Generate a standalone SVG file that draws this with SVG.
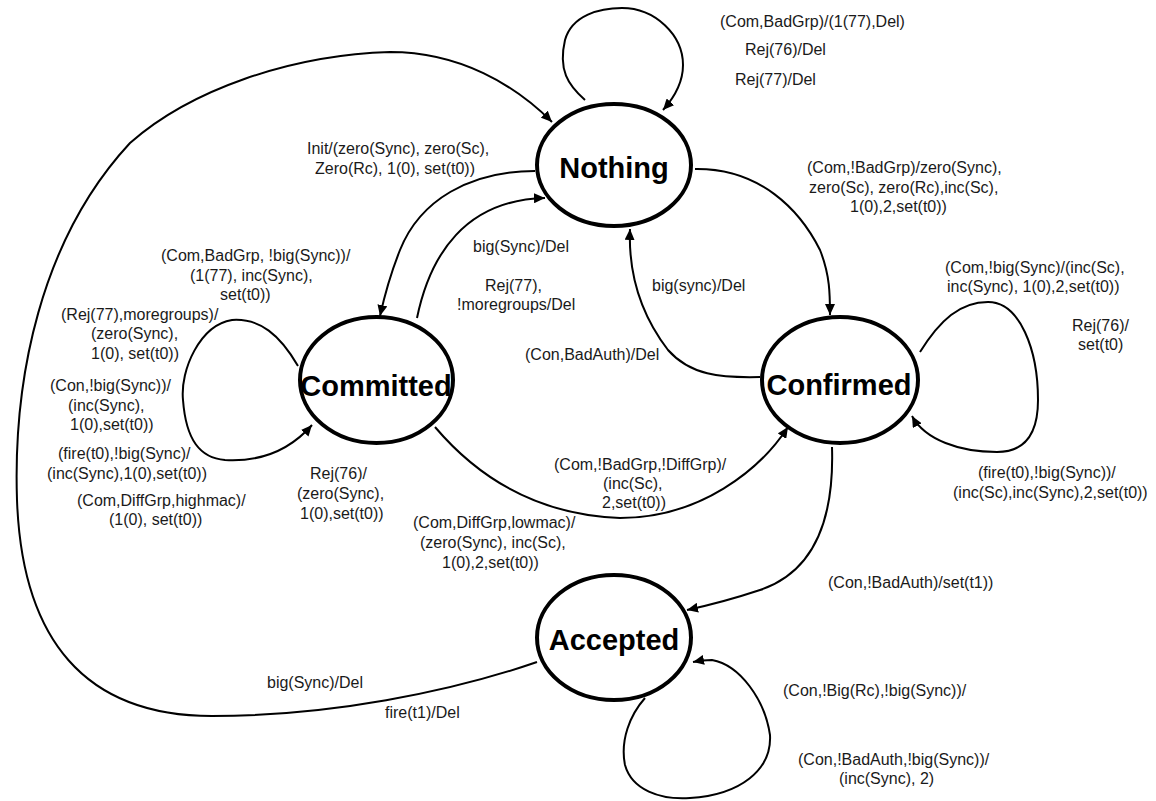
<svg xmlns="http://www.w3.org/2000/svg" width="1156" height="801" viewBox="0 0 1156 801">
<style>
.node{fill:#fff;stroke:#000;stroke-width:4}
.nt{font-family:"Liberation Sans",Arial,sans-serif;font-size:29px;font-weight:bold;fill:#000;text-anchor:middle}
.edge{fill:none;stroke:#000;stroke-width:2}
.lbl{font-family:"Liberation Sans",Arial,sans-serif;font-size:16px;fill:#1a1a1a}
</style>
<defs>
<marker id="arr" markerUnits="userSpaceOnUse" markerWidth="12" markerHeight="10" refX="11" refY="5" orient="auto">
<path d="M0,0 L11,5 L0,10 z" fill="#000"/>
</marker>
</defs>
<rect width="1156" height="801" fill="#fff"/>
<g id="connectors">
<path class="edge" marker-end="url(#arr)" d="M585,100 C568,85 558,70 565,40 C572,15 600,8 622,8 C655,8 683,35 683,65 C683,85 672,100 663,110"/>
<path class="edge" marker-end="url(#arr)" d="M537,662 C450,692 330,716 212,716 C85,716 22,640 17,500 C13,380 40,240 130,143 C190,90 290,55 390,52 C460,52 515,85 552,122"/>
<path class="edge" marker-end="url(#arr)" d="M535,171 C470,171 420,200 400,250 C390,275 384,298 380,316"/>
<path class="edge" marker-end="url(#arr)" d="M417,318 C430,255 465,200 545,198"/>
<path class="edge" marker-end="url(#arr)" d="M695,169 C760,168 800,210 820,250 C830,275 830,295 830,315"/>
<path class="edge" marker-end="url(#arr)" d="M760,377 C720,378 690,375 668,350 C645,320 628,280 630,229"/>
<path class="edge" marker-end="url(#arr)" d="M435,427 C480,480 540,515 620,518 C700,518 760,470 788,427"/>
<path class="edge" marker-end="url(#arr)" d="M832,447 C834,510 820,570 760,590 C730,600 710,605 687,610"/>
<path class="edge" marker-end="url(#arr)" d="M298,366 C280,335 260,318 232,320 C200,325 180,370 183,400 C186,440 200,458 225,460 C260,462 290,450 312,425"/>
<path class="edge" marker-end="url(#arr)" d="M920,352 C940,320 960,302 988,302 C1020,302 1038,350 1038,400 C1038,440 1020,452 997,452 C960,452 925,440 912,416"/>
<path class="edge" marker-end="url(#arr)" d="M645,698 C630,715 620,740 625,765 C632,790 660,800 690,798 C740,795 772,770 770,735 C765,700 740,665 712,660 C705,660 698,661 693,662"/>
</g>
<g id="labels" class="lbl">
<text x="720" y="27">(Com,BadGrp)/(1(77),Del)</text>
<text x="745" y="55">Rej(76)/Del</text>
<text x="735" y="85">Rej(77)/Del</text>
<text x="307" y="154">Init/(zero(Sync), zero(Sc),</text>
<text x="315" y="174">Zero(Rc), 1(0), set(t0))</text>
<text x="807" y="173">(Com,!BadGrp)/zero(Sync),</text>
<text x="809" y="193">zero(Sc), zero(Rc),inc(Sc),</text>
<text x="850" y="212">1(0),2,set(t0))</text>
<text x="473" y="252">big(Sync)/Del</text>
<text x="485" y="291">Rej(77),</text>
<text x="457" y="310">!moregroups/Del</text>
<text x="652" y="291">big(sync)/Del</text>
<text x="525" y="360">(Con,BadAuth)/Del</text>
<text x="161" y="261">(Com,BadGrp, !big(Sync))/</text>
<text x="190" y="281">(1(77), inc(Sync),</text>
<text x="220" y="300">set(t0))</text>
<text x="61" y="320">(Rej(77),moregroups)/</text>
<text x="91" y="339">(zero(Sync),</text>
<text x="91" y="359">1(0), set(t0))</text>
<text x="50" y="391">(Con,!big(Sync))/</text>
<text x="68" y="411">(inc(Sync),</text>
<text x="70" y="430">1(0),set(t0))</text>
<text x="58" y="459">(fire(t0),!big(Sync)/</text>
<text x="47" y="479">(inc(Sync),1(0),set(t0))</text>
<text x="77" y="506">(Com,DiffGrp,highmac)/</text>
<text x="109" y="525">(1(0), set(t0))</text>
<text x="310" y="479">Rej(76)/</text>
<text x="297" y="499">(zero(Sync),</text>
<text x="300" y="519">1(0),set(t0))</text>
<text x="554" y="470">(Com,!BadGrp,!DiffGrp)/</text>
<text x="603" y="489">(inc(Sc),</text>
<text x="602" y="508">2,set(t0))</text>
<text x="413" y="528">(Com,DiffGrp,lowmac)/</text>
<text x="420" y="548">(zero(Sync), inc(Sc),</text>
<text x="442" y="568">1(0),2,set(t0))</text>
<text x="945" y="273">(Com,!big(Sync)/(inc(Sc),</text>
<text x="947" y="292">inc(Sync), 1(0),2,set(t0))</text>
<text x="1072" y="331">Rej(76)/</text>
<text x="1078" y="350">set(t0)</text>
<text x="978" y="478">(fire(t0),!big(Sync))/</text>
<text x="953" y="498">(inc(Sc),inc(Sync),2,set(t0))</text>
<text x="828" y="588">(Con,!BadAuth)/set(t1))</text>
<text x="267" y="688">big(Sync)/Del</text>
<text x="385" y="718">fire(t1)/Del</text>
<text x="783" y="696">(Con,!Big(Rc),!big(Sync))/</text>
<text x="798" y="765">(Con,!BadAuth,!big(Sync))/</text>
<text x="839" y="784">(inc(Sync), 2)</text>
</g>
<g id="node-nothing">
<ellipse class="node" cx="614" cy="165" rx="77" ry="61"/>
<text class="nt" x="614" y="178">Nothing</text>
</g>
<g id="node-committed">
<ellipse class="node" cx="376.5" cy="380" rx="76.5" ry="63"/>
<text class="nt" x="376" y="396">Committed</text>
</g>
<g id="node-confirmed">
<ellipse class="node" cx="840" cy="380" rx="78" ry="63"/>
<text class="nt" x="839" y="395">Confirmed</text>
</g>
<g id="node-accepted">
<ellipse class="node" cx="614" cy="637.5" rx="77" ry="62.5"/>
<text class="nt" x="614" y="650">Accepted</text>
</g>
</svg>
